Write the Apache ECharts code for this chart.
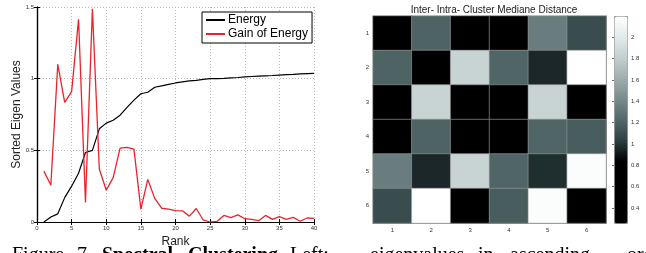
<!DOCTYPE html>
<html>
<head>
<meta charset="UTF-8">
<title>Spectral Clustering</title>
<script src="https://cdn.jsdelivr.net/npm/echarts@6/dist/echarts.min.js"></script>
<style>
  html, body { margin: 0; padding: 0; background: #fff; }
  #chart { width: 646px; height: 253px; }
</style>
</head>
<body>
<div id="chart"></div>
<script>
// left plot: eigenvalue energy vs rank
var rank = [];
for (var i = 1; i <= 40; i++) rank.push(i);
var energy = [0, 0.035, 0.057, 0.17, 0.25, 0.34, 0.485, 0.5, 0.65, 0.69,
              0.71, 0.745, 0.8, 0.85, 0.895, 0.905, 0.94, 0.95, 0.96, 0.97,
              0.977, 0.984, 0.988, 0.995, 1.0, 1.0, 1.002, 1.005, 1.008, 1.012,
              1.015, 1.018, 1.02, 1.022, 1.025, 1.028, 1.03, 1.033, 1.035, 1.037];
var gain = [0.355, 0.256, 1.10, 0.835, 0.91, 1.414, 0.137, 1.487, 0.37, 0.222,
            0.31, 0.515, 0.52, 0.508, 0.09, 0.297, 0.165, 0.096, 0.09, 0.08,
            0.078, 0.041, 0.094, 0.014, 0.0, 0.005, 0.046, 0.03, 0.05, 0.023,
            0.018, 0.009, 0.046, 0.018, 0.037, 0.018, 0.032, 0.005, 0.028, 0.025];

// right plot: 6x6 distance matrix, row 1 at top
var clusters = ['1', '2', '3', '4', '5', '6'];
var dist = [
  [0.35, 1.21, 0.40, 0.40, 1.35, 1.10],
  [1.21, 0.30, 1.85, 1.22, 0.96, 2.20],
  [0.40, 1.85, 0.30, 0.45, 1.85, 0.40],
  [0.40, 1.21, 0.45, 0.30, 1.22, 1.18],
  [1.35, 0.96, 1.85, 1.22, 0.98, 2.17],
  [1.10, 2.20, 0.40, 1.18, 2.17, 0.30]
];
var barTicks = [0.4, 0.6, 0.8, 1, 1.2, 1.4, 1.6, 1.8, 2];
var barMin = 0.26, barMax = 2.2;

var caption = [
  ['Figure', 12, 'normal'], ['7.', 77, 'normal'],
  ['Spectral', 102, 'bold'], ['Clustering.', 188, 'bold'],
  ['Left:', 290, 'normal'], ['eigenvalues', 370, 'normal'],
  ['in', 478, 'normal'], ['ascending', 510, 'normal'], ['orders', 627, 'normal']
];

var heatData = [];
dist.forEach(function (row, r) {
  row.forEach(function (v, c) { heatData.push([c, r, v]); });
});

var sans = 'Liberation Sans, Arial, sans-serif';
var tinyLbl = { fontSize: 6, color: '#333', fontFamily: sans };

var chart = echarts.init(document.getElementById('chart'), null, { renderer: 'canvas' });
chart.setOption({
  animation: false,
  textStyle: { fontFamily: sans },
  title: {
    text: 'Inter- Intra- Cluster Mediane Distance',
    left: 489, top: 0, textAlign: 'center',
    textStyle: { fontSize: 10, fontWeight: 'normal', color: '#222' }
  },
  legend: {
    left: 202, top: 12, orient: 'vertical',
    backgroundColor: '#fff', borderColor: '#000', borderWidth: 1,
    padding: [2, 4, 3, 4], itemGap: 2,
    itemWidth: 19, itemHeight: 2, icon: 'rect',
    textStyle: { fontSize: 12, color: '#000', padding: [0, 0, 0, -2] },
    data: ['Energy', 'Gain of Energy']
  },
  grid: [
    { left: 37, top: 7, width: 277, height: 220 },
    { left: 373, top: 16, width: 233, height: 207 },
    { left: 614, top: 16, width: 13, height: 207 }
  ],
  xAxis: [
    { gridIndex: 0, type: 'value', min: 0, max: 40, interval: 5,
      name: 'Rank', nameLocation: 'middle', nameGap: 14,
      nameTextStyle: { fontSize: 12, color: '#222' },
      axisLine: { lineStyle: { color: '#000', width: 1.2 } },
      axisTick: { inside: true, length: 3, lineStyle: { color: '#000' } },
      axisLabel: Object.assign({ margin: 3 }, tinyLbl),
      splitLine: { lineStyle: { color: '#bbb', type: [1, 2] } } },
    { gridIndex: 0, type: 'value', min: 0, max: 40, interval: 5, position: 'top',
      axisLine: { lineStyle: { color: '#000', width: 1.2 } },
      axisTick: { inside: true, length: 3, lineStyle: { color: '#000' } },
      axisLabel: { show: false }, splitLine: { show: false } },
    { gridIndex: 1, type: 'category', data: clusters,
      axisLine: { lineStyle: { color: '#888' } },
      axisTick: { inside: true, length: 2, alignWithLabel: true, lineStyle: { color: '#555' } },
      axisLabel: Object.assign({ margin: 4 }, tinyLbl) },
    { gridIndex: 1, type: 'category', data: clusters, position: 'top',
      axisLine: { lineStyle: { color: '#888' } },
      axisTick: { inside: true, length: 2, alignWithLabel: true, lineStyle: { color: '#555' } },
      axisLabel: { show: false } },
    { gridIndex: 2, type: 'value', min: 0, max: 1, show: false }
  ],
  yAxis: [
    { gridIndex: 0, type: 'value', min: 0, max: 1.5, interval: 0.5,
      name: 'Sorted Eigen Values', nameLocation: 'middle', nameGap: 14,
      nameMoveOverlap: false,
      nameTextStyle: { fontSize: 12, color: '#222' },
      axisLine: { show: true, lineStyle: { color: '#000', width: 1.2 } },
      axisTick: { show: true, inside: true, length: 3, lineStyle: { color: '#000' } },
      axisLabel: Object.assign({ margin: 3 }, tinyLbl),
      splitLine: { lineStyle: { color: '#bbb', type: [1, 2] } } },
    { gridIndex: 0, type: 'value', min: 0, max: 1.5, interval: 0.5, position: 'right',
      axisLine: { show: true, lineStyle: { color: '#000', width: 1.2 } },
      axisTick: { show: true, inside: true, length: 3, lineStyle: { color: '#000' } },
      axisLabel: { show: false }, splitLine: { show: false } },
    { gridIndex: 1, type: 'category', data: clusters, inverse: true,
      axisLine: { lineStyle: { color: '#888' } },
      axisTick: { inside: true, length: 2, alignWithLabel: true, lineStyle: { color: '#555' } },
      axisLabel: Object.assign({ margin: 4 }, tinyLbl) },
    { gridIndex: 1, type: 'category', data: clusters, inverse: true, position: 'right',
      axisLine: { lineStyle: { color: '#888' } },
      axisTick: { inside: true, length: 2, alignWithLabel: true, lineStyle: { color: '#555' } },
      axisLabel: { show: false } },
    { gridIndex: 2, type: 'value', min: barMin, max: barMax, position: 'right',
      axisLine: { show: false },
      axisTick: { show: true, inside: true, length: 2, customValues: barTicks,
                  lineStyle: { color: '#666' } },
      axisLabel: Object.assign({ margin: 4, customValues: barTicks }, tinyLbl),
      splitLine: { show: false } }
  ],
  visualMap: {
    type: 'continuous', seriesIndex: 2, min: barMin, max: barMax,
    left: 614, top: 16, itemWidth: 13, itemHeight: 207, padding: 0,
    calculable: false, showLabel: false, text: null,
    borderColor: '#999', borderWidth: 1,
    inRange: { color: ['#000000', '#000000', '#000000', '#000000', '#2c4041',
                       '#526768', '#778b8c', '#9daead', '#c2cfcf', '#e3eaea', '#ffffff'] }
  },
  graphic: caption.map(function (w) {
    return { type: 'text', left: w[1], top: 246,
      style: { text: w[0], fill: '#000', font: w[2] + ' 20px "Liberation Serif", "Times New Roman", serif' } };
  }),
  series: [
    { name: 'Energy', type: 'line', xAxisIndex: 0, yAxisIndex: 0,
      data: rank.map(function (r, i) { return [r, energy[i]]; }),
      showSymbol: false, lineStyle: { color: '#000', width: 1.2 }, itemStyle: { color: '#000' } },
    { name: 'Gain of Energy', type: 'line', xAxisIndex: 0, yAxisIndex: 0,
      data: rank.map(function (r, i) { return [r, gain[i]]; }),
      showSymbol: false, lineStyle: { color: '#e8242b', width: 1.3 }, itemStyle: { color: '#e8242b' } },
    { type: 'heatmap', xAxisIndex: 2, yAxisIndex: 2, data: heatData,
      itemStyle: { borderColor: '#999', borderWidth: 0.6 } }
  ]
});
</script>
</body>
</html>
